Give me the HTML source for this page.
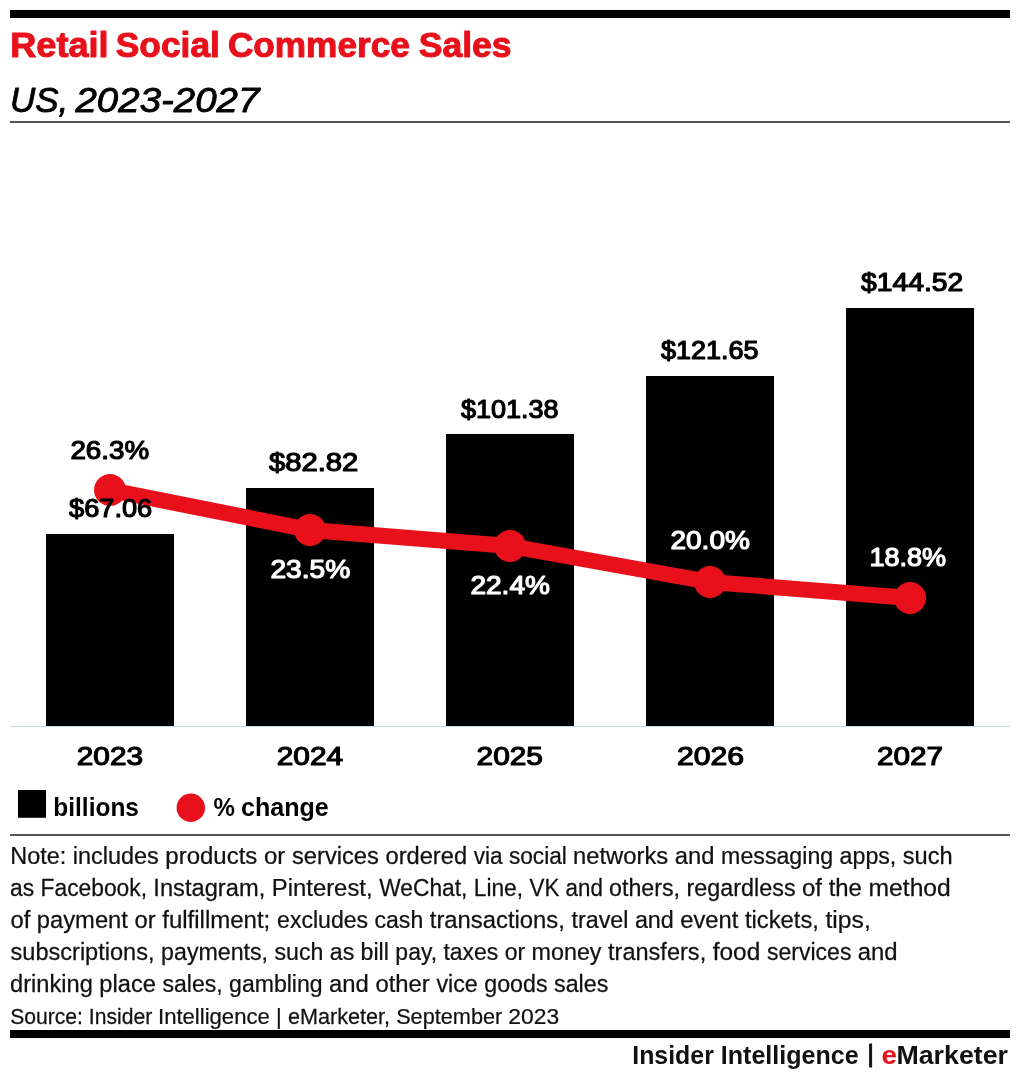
<!DOCTYPE html>
<html lang="en">
<head>
<meta charset="utf-8">
<title>Retail Social Commerce Sales</title>
<style>
html,body{margin:0;padding:0;background:#fff}
svg{display:block;font-family:"Liberation Sans",Arial,sans-serif}
text{stroke-linejoin:round}
</style>
</head>
<body>
<svg width="1020" height="1080" viewBox="0 0 1020 1080" fill="#111">
<g id="header">
<rect x="10" y="10" width="1000" height="8" fill="#000"/>
<text transform="translate(10.29 57.35) scale(1.0255 1)" font-size="35.21" font-weight="700" fill="#e8111b" stroke="#e8111b" stroke-width="1.0">Retail</text>
<text transform="translate(115.79 57.35) scale(1.0044 1)" font-size="35.21" font-weight="700" fill="#e8111b" stroke="#e8111b" stroke-width="1.0">Social</text>
<text transform="translate(227.94 57.35) scale(0.9996 1)" font-size="35.21" font-weight="700" fill="#e8111b" stroke="#e8111b" stroke-width="1.0">Commerce</text>
<text transform="translate(418.69 57.35) scale(1.0090 1)" font-size="35.21" font-weight="700" fill="#e8111b" stroke="#e8111b" stroke-width="1.0">Sales</text>
<text transform="translate(10.00 111.55) scale(0.9940 1)" font-size="35.21" font-style="italic" fill="#000" stroke="#000" stroke-width="0.85">US,</text>
<text transform="translate(75.47 111.55) scale(1.0926 1)" font-size="35.21" font-style="italic" fill="#000" stroke="#000" stroke-width="0.85">2023-2027</text>
<rect x="10" y="121" width="1000" height="2" fill="#555"/>
</g>
<g id="chart">
<rect x="10" y="726" width="1000" height="1" fill="#ccd6eb"/>
<rect x="46" y="534" width="128" height="192" fill="#000"/>
<rect x="246" y="488" width="128" height="238" fill="#000"/>
<rect x="446" y="434" width="128" height="292" fill="#000"/>
<rect x="646" y="376" width="128" height="350" fill="#000"/>
<rect x="846" y="308" width="128" height="418" fill="#000"/>
<polyline points="110,490 310,530 510,546 710,582 910,598" fill="none" stroke="#e8111b" stroke-width="16" stroke-linejoin="round" stroke-linecap="round"/>
<circle cx="110" cy="490" r="16" fill="#e8111b"/>
<circle cx="310" cy="530" r="16" fill="#e8111b"/>
<circle cx="510" cy="546" r="16" fill="#e8111b"/>
<circle cx="710" cy="582" r="16" fill="#e8111b"/>
<circle cx="910" cy="598" r="16" fill="#e8111b"/>
<text transform="translate(69.02 516.79) scale(1.0597 1)" font-size="25.68" fill="#000" stroke="#000" stroke-width="1.2">$67.06</text>
<text transform="translate(269.04 471.29) scale(1.1368 1)" font-size="25.68" fill="#000" stroke="#000" stroke-width="1.2">$82.82</text>
<text transform="translate(461.02 417.54) scale(1.0519 1)" font-size="25.68" fill="#000" stroke="#000" stroke-width="1.2">$101.38</text>
<text transform="translate(661.02 359.29) scale(1.0519 1)" font-size="25.68" fill="#000" stroke="#000" stroke-width="1.2">$121.65</text>
<text transform="translate(861.03 291.29) scale(1.1006 1)" font-size="25.68" fill="#000" stroke="#000" stroke-width="1.2">$144.52</text>
<text transform="translate(70.42 458.54) scale(1.0817 1)" font-size="25.68" fill="#000" stroke="#000" stroke-width="1.2">26.3%</text>
<text transform="translate(270.40 578.04) scale(1.0991 1)" font-size="25.68" fill="#fff" stroke="#fff" stroke-width="1.2">23.5%</text>
<text transform="translate(470.41 594.29) scale(1.0922 1)" font-size="25.68" fill="#fff" stroke="#fff" stroke-width="1.2">22.4%</text>
<text transform="translate(670.41 549.29) scale(1.0922 1)" font-size="25.68" fill="#fff" stroke="#fff" stroke-width="1.2">20.0%</text>
<text transform="translate(869.40 566.29) scale(1.0544 1)" font-size="25.68" fill="#fff" stroke="#fff" stroke-width="1.2">18.8%</text>
<text transform="translate(76.81 765.49) scale(1.1716 1)" font-size="25.41" fill="#000" stroke="#000" stroke-width="1.2">2023</text>
<text transform="translate(276.81 765.49) scale(1.1717 1)" font-size="25.41" fill="#000" stroke="#000" stroke-width="1.2">2024</text>
<text transform="translate(476.61 765.49) scale(1.1734 1)" font-size="25.41" fill="#000" stroke="#000" stroke-width="1.2">2025</text>
<text transform="translate(676.90 765.49) scale(1.1861 1)" font-size="25.41" fill="#000" stroke="#000" stroke-width="1.2">2026</text>
<text transform="translate(877.11 765.49) scale(1.1679 1)" font-size="25.41" fill="#000" stroke="#000" stroke-width="1.2">2027</text>
</g>
<g id="legend">
<rect x="18" y="790" width="28" height="27.8" fill="#000"/>
<circle cx="190.8" cy="807.8" r="14.2" fill="#e8111b"/>
<text transform="translate(53.29 815.80) scale(0.9662 1)" font-size="25.34" font-weight="700" fill="#000">billions</text>
<text transform="translate(213.48 815.80) scale(0.9509 1)" font-size="25.34" font-weight="700" fill="#000">%</text>
<text transform="translate(241.00 815.80) scale(0.9895 1)" font-size="25.34" font-weight="700" fill="#000">change</text>
</g>
<g id="notes">
<rect x="10" y="834" width="1000" height="2" fill="#555"/>
<text transform="translate(10.22 863.60) scale(0.9958 1)" font-size="23.55" stroke="#111" stroke-width="0.25">Note: includes</text>
<text transform="translate(165.31 863.60) scale(1.0190 1)" font-size="23.55" stroke="#111" stroke-width="0.25">products or</text>
<text transform="translate(292.03 863.60) scale(1.0061 1)" font-size="23.55" stroke="#111" stroke-width="0.25">services ordered</text>
<text transform="translate(473.75 863.60) scale(0.9612 1)" font-size="23.55" stroke="#111" stroke-width="0.25">via social</text>
<text transform="translate(573.07 863.60) scale(1.0095 1)" font-size="23.55" stroke="#111" stroke-width="0.25">networks and</text>
<text transform="translate(721.11 863.60) scale(0.9843 1)" font-size="23.55" stroke="#111" stroke-width="0.25">messaging apps,</text>
<text transform="translate(902.78 863.60) scale(1.0040 1)" font-size="23.55" stroke="#111" stroke-width="0.25">such</text>
<text transform="translate(10.09 895.50) scale(0.9691 1)" font-size="23.55" stroke="#111" stroke-width="0.25">as Facebook,</text>
<text transform="translate(153.37 895.50) scale(1.0059 1)" font-size="23.55" stroke="#111" stroke-width="0.25">Instagram,</text>
<text transform="translate(271.84 895.50) scale(1.0131 1)" font-size="23.55" stroke="#111" stroke-width="0.25">Pinterest,</text>
<text transform="translate(379.25 895.50) scale(0.9672 1)" font-size="23.55" stroke="#111" stroke-width="0.25">WeChat, Line,</text>
<text transform="translate(529.50 895.50) scale(0.9500 1)" font-size="23.55" stroke="#111" stroke-width="0.25">VK and</text>
<text transform="translate(609.07 895.50) scale(0.9872 1)" font-size="23.55" stroke="#111" stroke-width="0.25">others,</text>
<text transform="translate(686.60 895.50) scale(0.9912 1)" font-size="23.55" stroke="#111" stroke-width="0.25">regardless</text>
<text transform="translate(802.04 895.50) scale(1.0162 1)" font-size="23.55" stroke="#111" stroke-width="0.25">of the</text>
<text transform="translate(868.52 895.50) scale(1.0484 1)" font-size="23.55" stroke="#111" stroke-width="0.25">method</text>
<text transform="translate(10.45 927.50) scale(1.0085 1)" font-size="23.55" stroke="#111" stroke-width="0.25">of payment or</text>
<text transform="translate(162.26 927.50) scale(1.0198 1)" font-size="23.55" stroke="#111" stroke-width="0.25">fulfillment;</text>
<text transform="translate(277.08 927.50) scale(0.9802 1)" font-size="23.55" stroke="#111" stroke-width="0.25">excludes cash</text>
<text transform="translate(429.76 927.50) scale(1.0121 1)" font-size="23.55" stroke="#111" stroke-width="0.25">transactions,</text>
<text transform="translate(571.52 927.50) scale(0.9894 1)" font-size="23.55" stroke="#111" stroke-width="0.25">travel and</text>
<text transform="translate(680.30 927.50) scale(1.0086 1)" font-size="23.55" stroke="#111" stroke-width="0.25">event tickets,</text>
<text transform="translate(825.50 927.50) scale(1.0494 1)" font-size="23.55" stroke="#111" stroke-width="0.25">tips,</text>
<text transform="translate(10.53 959.50) scale(1.0002 1)" font-size="23.55" stroke="#111" stroke-width="0.25">subscriptions,</text>
<text transform="translate(161.11 959.50) scale(0.9847 1)" font-size="23.55" stroke="#111" stroke-width="0.25">payments,</text>
<text transform="translate(274.54 959.50) scale(0.9820 1)" font-size="23.55" stroke="#111" stroke-width="0.25">such as bill</text>
<text transform="translate(395.37 959.50) scale(0.9759 1)" font-size="23.55" stroke="#111" stroke-width="0.25">pay, taxes or</text>
<text transform="translate(531.60 959.50) scale(0.9895 1)" font-size="23.55" stroke="#111" stroke-width="0.25">money</text>
<text transform="translate(608.01 959.50) scale(1.0005 1)" font-size="23.55" stroke="#111" stroke-width="0.25">transfers,</text>
<text transform="translate(712.76 959.50) scale(1.0359 1)" font-size="23.55" stroke="#111" stroke-width="0.25">food</text>
<text transform="translate(767.04 959.50) scale(0.9772 1)" font-size="23.55" stroke="#111" stroke-width="0.25">services</text>
<text transform="translate(857.79 959.50) scale(1.0142 1)" font-size="23.55" stroke="#111" stroke-width="0.25">and</text>
<text transform="translate(10.05 991.75) scale(1.0041 1)" font-size="23.55" stroke="#111" stroke-width="0.25">drinking place</text>
<text transform="translate(162.54 991.75) scale(0.9786 1)" font-size="23.55" stroke="#111" stroke-width="0.25">sales, gambling</text>
<text transform="translate(329.05 991.75) scale(1.0132 1)" font-size="23.55" stroke="#111" stroke-width="0.25">and other</text>
<text transform="translate(436.50 991.75) scale(0.9866 1)" font-size="23.55" stroke="#111" stroke-width="0.25">vice goods</text>
<text transform="translate(554.04 991.75) scale(0.9871 1)" font-size="23.55" stroke="#111" stroke-width="0.25">sales</text>
<text transform="translate(10.16 1023.75) scale(0.9405 1)" font-size="22.46" stroke="#111" stroke-width="0.25">Source: Insider</text>
<text transform="translate(158.01 1023.75) scale(0.9842 1)" font-size="22.46" stroke="#111" stroke-width="0.25">Intelligence |</text>
<text transform="translate(287.88 1023.75) scale(0.9636 1)" font-size="22.46" stroke="#111" stroke-width="0.25">eMarketer,</text>
<text transform="translate(396.13 1023.75) scale(0.9668 1)" font-size="22.46" stroke="#111" stroke-width="0.25">September</text>
<text transform="translate(508.33 1023.75) scale(1.0195 1)" font-size="22.46" stroke="#111" stroke-width="0.25">2023</text>
</g>
<g id="footer">
<rect x="10" y="1030" width="1000" height="8" fill="#000"/>
<text transform="translate(632.26 1063.80) scale(0.9754 1)" font-size="25.51" font-weight="700">Insider</text>
<text transform="translate(720.74 1063.80) scale(0.9836 1)" font-size="25.51" font-weight="700">Intelligence</text>
<text transform="translate(867.61 1061.72) scale(1.0000 1)" font-size="24.11" stroke="#111" stroke-width="1.0">|</text>
<text transform="translate(881.39 1063.80) scale(1.0862 1)" font-size="25.51" font-weight="700" fill="#e8111b">e</text>
<text transform="translate(896.42 1063.80) scale(1.0501 1)" font-size="25.51" font-weight="700">Marketer</text>
</g>
</svg>
</body>
</html>
